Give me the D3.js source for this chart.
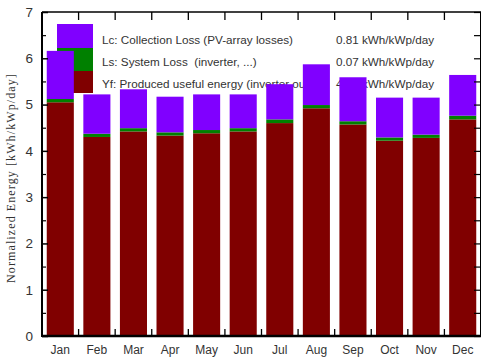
<!DOCTYPE html>
<html>
<head>
<meta charset="utf-8">
<script src="https://cdn.jsdelivr.net/npm/d3@7"></script>
<style>
  html, body { margin: 0; padding: 0; background: #fff; }
  svg { display: block; }
  text { font-family: "Liberation Sans", Arial, sans-serif; fill: #333; }
</style>
</head>
<body>
<script>
// Monthly normalized energy of the PV system (kWh/kWp/day)
const months = ["Jan","Feb","Mar","Apr","May","Jun","Jul","Aug","Sep","Oct","Nov","Dec"];
const yfValues = [5.05, 4.30, 4.42, 4.33, 4.38, 4.42, 4.60, 4.92, 4.57, 4.22, 4.28, 4.68]; // produced useful energy
const lsValues = [0.07, 0.07, 0.07, 0.07, 0.07, 0.07, 0.08, 0.07, 0.07, 0.07, 0.07, 0.08]; // system loss
const lcValues = [1.04, 0.85, 0.84, 0.77, 0.77, 0.73, 0.76, 0.88, 0.95, 0.86, 0.80, 0.88]; // collection loss

const seriesKeys = ["yf", "ls", "lc"];
const seriesColors = { yf: "#800000", ls: "#008000", lc: "#8000ff" };

const legendKeys = ["lc", "ls", "yf"];
const legendLabels = [
  "Lc: Collection Loss (PV-array losses)",
  "Ls: System Loss  (inverter, ...)",
  "Yf: Produced useful energy (inverter output)"
];
const legendValues = ["0.81 kWh/kWp/day", "0.07 kWh/kWp/day", "4.51 kWh/kWp/day"];

const yTicks = [0, 1, 2, 3, 4, 5, 6, 7];
const yMinorTicks = [0.5, 1.5, 2.5, 3.5, 4.5, 5.5, 6.5];
const yTitle = "Normalized Energy [kWh/kWp/day]";

const W = 481, H = 361;
const plotLeft = 42, plotRight = 481, plotTop = 12, plotBottom = 336;

const rows = months.map((m, i) => ({ month: m, yf: yfValues[i], ls: lsValues[i], lc: lcValues[i] }));

const svg = d3.select("body").append("svg").attr("width", W).attr("height", H);
svg.append("rect").attr("width", W).attr("height", H).attr("fill", "#fff");

const x = d3.scaleBand().domain(months).range([plotLeft, plotRight]).paddingInner(0.26).paddingOuter(0.13);
const y = d3.scaleLinear().domain([0, 7]).range([plotBottom, plotTop]);

// Legend (sits underneath the bars)
const legend = svg.append("g");
const swatchX = 57, swatchW = 36;
const swatchEdges = [24, 48, 71, 93];
legend.selectAll("rect").data(legendKeys).join("rect")
  .attr("x", swatchX).attr("width", swatchW)
  .attr("y", (d, i) => swatchEdges[i])
  .attr("height", (d, i) => swatchEdges[i + 1] - swatchEdges[i])
  .attr("fill", d => seriesColors[d]);
legend.selectAll("text.lab").data(legendLabels).join("text").attr("class", "lab")
  .attr("x", 102).attr("y", (d, i) => 43.5 + i * 22)
  .style("font-size", "11.7px").style("white-space", "pre").text(d => d);
legend.selectAll("text.val").data(legendValues).join("text").attr("class", "val")
  .attr("x", 336).attr("y", (d, i) => 43.5 + i * 22)
  .style("font-size", "11.7px").text(d => d);

// Stacked bars
const stacked = d3.stack().keys(seriesKeys)(rows);
svg.append("g").selectAll("g").data(stacked).join("g")
  .attr("fill", s => seriesColors[s.key])
  .selectAll("rect").data(s => s).join("rect")
  .attr("x", d => x(d.data.month))
  .attr("width", x.bandwidth())
  .attr("y", d => y(d[1]))
  .attr("height", d => y(d[0]) - y(d[1]));

// Frame and axes
const step = x.step();
const boundaries = d3.range(1, months.length).map(i => plotLeft + i * step);

const yAxis = d3.axisLeft(y).tickValues(yTicks).tickFormat(d3.format("d"))
  .tickSizeInner(-6).tickSizeOuter(0).tickPadding(9);
const gy = svg.append("g").attr("transform", `translate(${plotLeft},0)`).call(yAxis);
gy.select(".domain").remove();
gy.selectAll(".tick line").attr("stroke", "#000").attr("stroke-width", 1.5);
gy.selectAll(".tick text").style("font-size", "13.5px").attr("fill", "#333")
  .style("font-family", "Liberation Sans, Arial, sans-serif");

const gyMinor = svg.append("g").attr("transform", `translate(${plotLeft},0)`)
  .call(d3.axisLeft(y).tickValues(yMinorTicks).tickSizeInner(-4).tickSizeOuter(0).tickFormat(""));
gyMinor.select(".domain").remove();
gyMinor.selectAll(".tick line").attr("stroke", "#000").attr("stroke-width", 1.2);

// Right side ticks
const gr = svg.append("g").attr("transform", `translate(${plotRight - 1},0)`)
  .call(d3.axisRight(y).tickValues(yTicks.concat(yMinorTicks)).tickSizeInner(-6).tickSizeOuter(0).tickFormat(""));
gr.select(".domain").remove();
gr.selectAll(".tick line").attr("stroke", "#000").attr("stroke-width", 1.2);

// Month axis
const xAxis = d3.axisBottom(x).tickSize(0).tickPadding(9);
const gx = svg.append("g").attr("transform", `translate(0,${plotBottom})`).call(xAxis);
gx.select(".domain").remove();
gx.selectAll(".tick text").style("font-size", "12px").attr("fill", "#333")
  .style("font-family", "Liberation Sans, Arial, sans-serif");

// Band separator ticks on bottom and top edges
svg.append("g").selectAll("line").data(boundaries).join("line")
  .attr("x1", d => d).attr("x2", d => d)
  .attr("y1", plotBottom).attr("y2", plotBottom - 7)
  .attr("stroke", "#000").attr("stroke-width", 1.3);
svg.append("g").selectAll("line").data(boundaries).join("line")
  .attr("x1", d => d).attr("x2", d => d)
  .attr("y1", plotTop).attr("y2", plotTop + 8)
  .attr("stroke", "#000").attr("stroke-width", 1.3);

// Frame lines
svg.append("line").attr("x1", plotLeft).attr("x2", plotRight).attr("y1", plotTop).attr("y2", plotTop)
  .attr("stroke", "#000").attr("stroke-width", 1.5);
svg.append("line").attr("x1", plotLeft).attr("x2", plotRight).attr("y1", plotBottom).attr("y2", plotBottom)
  .attr("stroke", "#000").attr("stroke-width", 2.5);
svg.append("line").attr("x1", plotLeft).attr("x2", plotLeft).attr("y1", plotTop).attr("y2", plotBottom + 1)
  .attr("stroke", "#000").attr("stroke-width", 2);
svg.append("line").attr("x1", plotRight - 0.5).attr("x2", plotRight - 0.5).attr("y1", plotTop).attr("y2", plotBottom)
  .attr("stroke", "#000").attr("stroke-width", 1);

// Y axis title
svg.append("text")
  .attr("transform", `translate(15,${(plotTop + plotBottom) / 2 + 4}) rotate(-90)`)
  .attr("text-anchor", "middle")
  .style("font-family", "Liberation Serif, Times New Roman, serif")
  .style("font-size", "12px")
  .style("letter-spacing", "1.1px")
  .attr("fill", "#666")
  .text(yTitle);
</script>
</body>
</html>
